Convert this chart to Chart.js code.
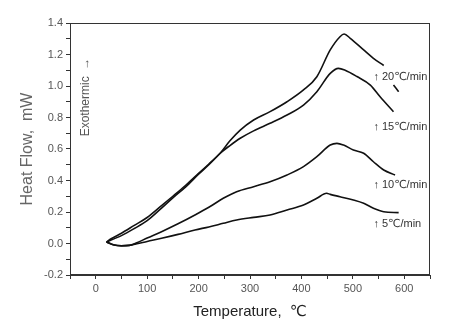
<!DOCTYPE html>
<html>
<head>
<meta charset="utf-8">
<script src="https://cdn.jsdelivr.net/npm/chart.js@4.4.0/dist/chart.umd.min.js"></script>
<style>
  body { margin: 0; background: #fff; }
  #wrap { width: 449px; height: 325px; }
</style>
</head>
<body>
<div id="wrap"><canvas id="dsc"></canvas></div>
<script>
// DSC curves, heat flow (mW) vs temperature (°C), one pair of arrays per heating rate
const temp20 = [21, 30, 50, 75, 100, 128, 150, 175, 200, 220, 242, 261, 281, 307, 339, 372, 404, 430, 456, 475, 483, 495, 521, 540, 560, 570, 579, 589];
const flow20 = [0.01, 0.03, 0.065, 0.115, 0.165, 0.24, 0.3, 0.37, 0.445, 0.505, 0.573, 0.652, 0.72, 0.784, 0.837, 0.9, 0.975, 1.059, 1.229, 1.313, 1.33, 1.303, 1.229, 1.176, 1.13, null, 1.006, 0.964];

const temp15 = [21, 32, 50, 75, 100, 128, 150, 175, 200, 220, 242, 261, 281, 307, 339, 372, 404, 430, 456, 472, 485, 508, 534, 553, 579];
const flow15 = [0.01, 0.025, 0.05, 0.095, 0.145, 0.225, 0.29, 0.36, 0.44, 0.5, 0.573, 0.622, 0.668, 0.715, 0.763, 0.816, 0.879, 0.964, 1.08, 1.112, 1.1, 1.06, 1.006, 0.932, 0.837];

const temp10 = [21, 35, 50, 65, 80, 100, 128, 160, 193, 220, 248, 274, 307, 339, 372, 404, 430, 456, 469, 482, 501, 521, 540, 560, 582];
const flow10 = [0.01, -0.008, -0.014, -0.012, 0.005, 0.035, 0.075, 0.125, 0.181, 0.23, 0.287, 0.329, 0.361, 0.392, 0.435, 0.488, 0.551, 0.625, 0.636, 0.625, 0.594, 0.573, 0.519, 0.467, 0.435];

const temp5 = [21, 35, 50, 65, 80, 100, 128, 160, 193, 220, 248, 274, 307, 339, 372, 404, 430, 449, 456, 475, 501, 521, 540, 560, 589];
const flow5 = [0.01, -0.01, -0.015, -0.012, -0.002, 0.013, 0.033, 0.058, 0.086, 0.105, 0.128, 0.149, 0.166, 0.181, 0.213, 0.244, 0.287, 0.319, 0.312, 0.297, 0.276, 0.255, 0.224, 0.202, 0.196];

const rateNames = ['↑ 20℃/min', '↑ 15℃/min', '↑ 10℃/min', '↑ 5℃/min'];
const nameFlows = [1.057, 0.74, 0.371, 0.124];
const nameTemp = 540;

const xTickValues = [-50, 0, 50, 100, 150, 200, 250, 300, 350, 400, 450, 500, 550, 600, 650];
const xTickLabels = [0, 100, 200, 300, 400, 500, 600];
const yTickValues = [-0.2, -0.1, 0, 0.1, 0.2, 0.3, 0.4, 0.5, 0.6, 0.7, 0.8, 0.9, 1.0, 1.1, 1.2, 1.3, 1.4];
const yTickLabels = [-0.2, 0, 0.2, 0.4, 0.6, 0.8, 1.0, 1.2, 1.4];

const FONT = '"Liberation Sans", Arial, "DejaVu Sans", sans-serif';

const toPoints = (xs, ys) => xs.map((x, i) => ({ x: x, y: ys[i] }));

const series = [
  toPoints(temp20, flow20),
  toPoints(temp15, flow15),
  toPoints(temp10, flow10),
  toPoints(temp5, flow5),
];

const frameAndNotes = {
  id: 'frameAndNotes',
  afterDraw(chart) {
    const { ctx, chartArea, scales } = chart;
    ctx.save();
    ctx.strokeStyle = '#333';
    ctx.lineWidth = 1;
    ctx.strokeRect(Math.round(chartArea.left) + 0.5, Math.round(chartArea.top) + 0.5,
      Math.round(chartArea.right - chartArea.left) - 1, Math.round(chartArea.bottom - chartArea.top) - 1);

    ctx.fillStyle = '#333';
    ctx.font = '11px ' + FONT;
    ctx.textBaseline = 'middle';
    ctx.textAlign = 'left';
    rateNames.forEach((name, i) => {
      ctx.fillText(name, scales.x.getPixelForValue(nameTemp), scales.y.getPixelForValue(nameFlows[i]));
    });

    // rotated note next to the y axis
    ctx.translate(chartArea.left + 16, scales.y.getPixelForValue(0.93));
    ctx.rotate(-Math.PI / 2);
    ctx.textAlign = 'center';
    ctx.fillStyle = '#555';
    ctx.font = '12px ' + FONT;
    ctx.fillText('Exothermic  →', 0, 0);
    ctx.restore();
  }
};

new Chart(document.getElementById('dsc'), {
  type: 'line',
  data: {
    datasets: series.map((pts) => ({
      data: pts,
      borderColor: '#111',
      borderWidth: 1.6,
      pointRadius: 0,
      fill: false,
      spanGaps: false,
      cubicInterpolationMode: 'monotone',
    })),
  },
  options: {
    responsive: true,
    maintainAspectRatio: false,
    animation: false,
    devicePixelRatio: 1,
    layout: { padding: { top: 23, right: 19, left: 0, bottom: 0 } },
    plugins: { legend: { display: false }, tooltip: { enabled: false } },
    scales: {
      x: {
        type: 'linear',
        min: -50,
        max: 650,
        afterBuildTicks: (scale) => { scale.ticks = xTickValues.map((v) => ({ value: v })); },
        afterFit: (scale) => { scale.height = 50; },
        ticks: {
          autoSkip: false,
          maxRotation: 0,
          padding: 3,
          color: '#555',
          font: { family: FONT, size: 11 },
          callback: (v) => (xTickLabels.includes(v) ? String(v) : ''),
        },
        grid: { drawOnChartArea: false, tickLength: 4, color: '#333' },
        border: { color: '#333' },
        title: {
          display: true,
          text: 'Temperature,  ℃',
          color: '#222',
          font: { family: FONT, size: 15 },
          padding: { top: 4, bottom: 4 },
        },
      },
      y: {
        min: -0.2,
        max: 1.4,
        afterBuildTicks: (scale) => { scale.ticks = yTickValues.map((v) => ({ value: v })); },
        afterFit: (scale) => { scale.width = 70; },
        ticks: {
          autoSkip: false,
          padding: 3,
          color: '#555',
          font: { family: FONT, size: 11 },
          callback: (v) => (yTickLabels.some((t) => Math.abs(t - v) < 1e-6) ? v.toFixed(1) : ''),
        },
        grid: { drawOnChartArea: false, tickLength: 4, color: '#333' },
        border: { color: '#333' },
        title: {
          display: true,
          text: 'Heat Flow,  mW',
          color: '#666',
          font: { family: FONT, size: 16 },
          padding: { top: 18, bottom: 18 },
        },
      },
    },
  },
  plugins: [frameAndNotes],
});
</script>
</body>
</html>
